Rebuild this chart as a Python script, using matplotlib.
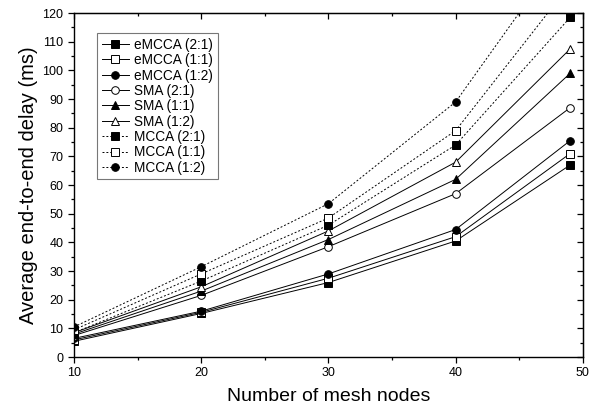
import matplotlib
matplotlib.use("Agg")
import matplotlib.pyplot as plt
from matplotlib.ticker import MultipleLocator

plt.rcParams['font.family'] = ['Liberation Sans', 'DejaVu Sans']

nodes = [10, 20, 30, 40, 49]
labels = ["eMCCA (2:1)", "eMCCA (1:1)", "eMCCA (1:2)",
          "SMA (2:1)", "SMA (1:1)", "SMA (1:2)",
          "MCCA (2:1)", "MCCA (1:1)", "MCCA (1:2)"]
emcca_21 = [5.5, 15.2, 26.0, 40.5, 67.0]
emcca_11 = [6.0, 15.6, 27.5, 42.0, 71.0]
emcca_12 = [6.5, 16.0, 29.0, 44.5, 75.5]
sma_21 = [7.5, 21.5, 38.5, 57.0, 87.0]
sma_11 = [8.0, 23.0, 41.0, 62.0, 99.0]
sma_12 = [8.5, 24.5, 44.0, 68.0, 107.5]
mcca_21 = [8.5, 26.5, 46.0, 74.0, 118.5]
mcca_11 = [9.5, 29.0, 48.5, 79.0, 130.0]
mcca_12 = [10.5, 31.5, 53.5, 89.0, 145.0]

series = [emcca_21, emcca_11, emcca_12, sma_21, sma_11, sma_12,
          mcca_21, mcca_11, mcca_12]
markers = ['s', 's', 'o', 'o', '^', '^', 's', 's', 'o']
filled = [True, False, True, False, True, False, True, False, True]
styles = ['-'] * 6 + [(0, (2, 2))] * 3

fig = plt.figure(figsize=(5.96, 4.09), dpi=100)
ax = fig.add_axes([0.124, 0.127, 0.854, 0.841])

for y, lab, m, f, ls in zip(series, labels, markers, filled, styles):
    ax.plot(nodes, y, linestyle=ls, color='black', linewidth=0.7,
            marker=m, markersize=5.5 if m != '^' else 6,
            markerfacecolor='black' if f else 'white',
            markeredgecolor='black', markeredgewidth=0.7,
            label=lab, clip_on=True)

ax.set_xlim(10, 50)
ax.set_ylim(0, 120)
ax.xaxis.set_major_locator(MultipleLocator(10))
ax.xaxis.set_minor_locator(MultipleLocator(5))
ax.yaxis.set_major_locator(MultipleLocator(10))
ax.yaxis.set_minor_locator(MultipleLocator(5))
ax.tick_params(axis='both', which='both', direction='out', labelsize=9,
               width=0.9)
ax.tick_params(which='major', length=4)
ax.tick_params(which='minor', length=2.5)

axt = ax.secondary_xaxis('top')
axt.xaxis.set_major_locator(MultipleLocator(10))
axt.xaxis.set_minor_locator(MultipleLocator(5))
axt.tick_params(which='both', direction='in', labeltop=False, width=0.9)
axt.tick_params(which='major', length=4)
axt.tick_params(which='minor', length=2.5)
axr = ax.secondary_yaxis('right')
axr.yaxis.set_major_locator(MultipleLocator(10))
axr.yaxis.set_minor_locator(MultipleLocator(5))
axr.tick_params(which='both', direction='in', labelright=False, width=0.9)
axr.tick_params(which='major', length=4)
axr.tick_params(which='minor', length=2.5)

for s in ax.spines.values():
    s.set_linewidth(1.0)

ax.set_xlabel("Number of mesh nodes", fontsize=14, labelpad=6)
ax.set_ylabel("Average end-to-end delay (ms)", fontsize=14.5, labelpad=3)

leg = ax.legend(loc='upper left', bbox_to_anchor=(0.045, 0.942), fontsize=9.8,
                frameon=True, fancybox=False, edgecolor='#555555',
                handlelength=2.0, labelspacing=0.1, borderpad=0.35,
                handletextpad=0.4, borderaxespad=0, markerscale=1.0)
leg.get_frame().set_linewidth(0.8)

fig.savefig("out.png", dpi=100)
